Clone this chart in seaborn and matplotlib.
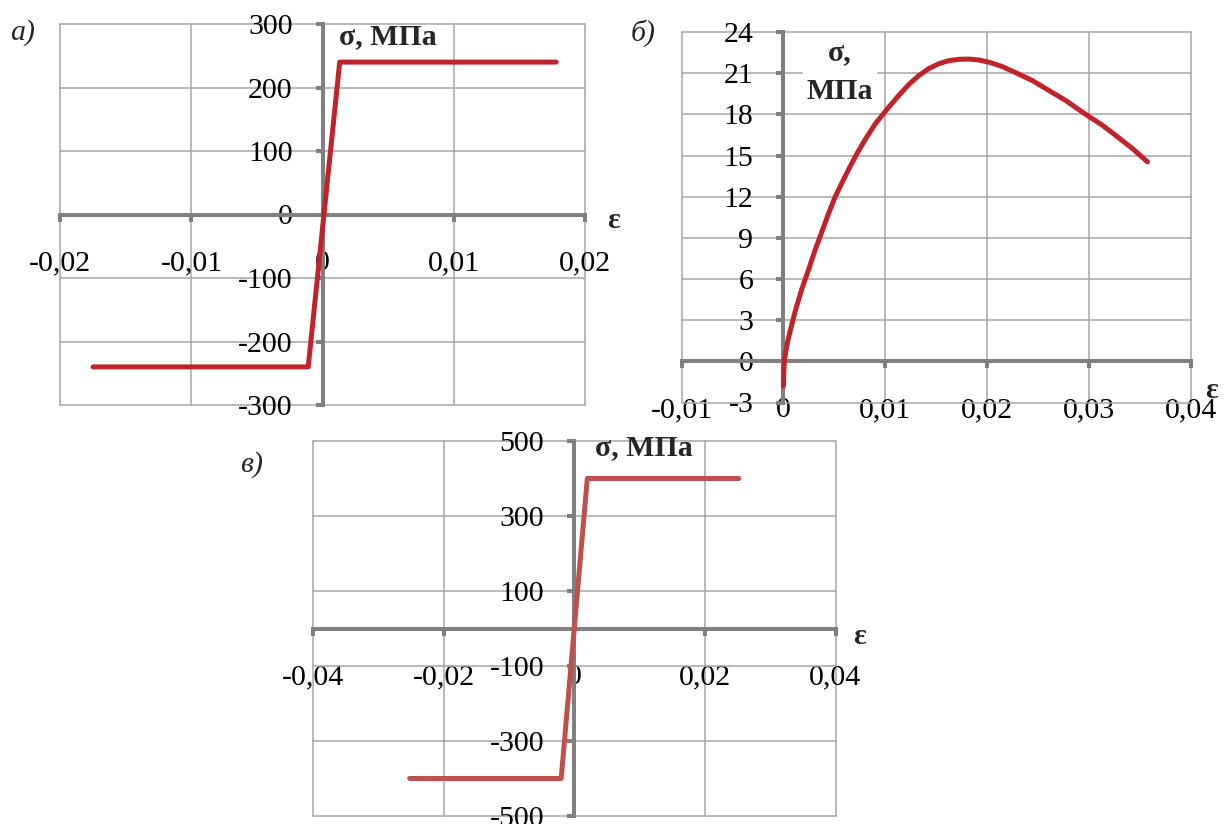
import matplotlib
matplotlib.use("Agg")
import matplotlib.pyplot as plt
import seaborn as sns
from matplotlib.ticker import FuncFormatter

# а) steel, elastic - perfectly plastic
eps_a = [-0.0175, -0.0011, 0.0013, 0.0178]
sig_a = [-240, -240, 240, 240]
xticks_a = [-0.02, -0.01, 0, 0.01, 0.02]
yticks_a = [-300, -200, -100, 0, 100, 200, 300]

# б) concrete in compression (read off the curve)
eps_b = [0.0, 0.00003, 0.0001, 0.00025, 0.00049, 0.00115, 0.0018, 0.00246,
         0.00311, 0.00377, 0.00443, 0.00508, 0.00574, 0.00639, 0.00721,
         0.00803, 0.00902, 0.01026, 0.01131, 0.0123, 0.01328, 0.01426,
         0.01525, 0.01623, 0.01721, 0.0182, 0.01918, 0.02023, 0.02148,
         0.02279, 0.02443, 0.02607, 0.0277, 0.02934, 0.03131, 0.03262,
         0.03426, 0.03574]
sig_b = [-1.8, -0.9, 0.0, 0.8, 1.69, 3.63, 5.25, 6.66,
         8.11, 9.44, 10.77, 11.99, 13.0, 13.97, 15.13,
         16.17, 17.31, 18.45, 19.37, 20.17, 20.82, 21.33,
         21.69, 21.91, 22.01, 22.03, 21.96, 21.79, 21.48,
         21.04, 20.46, 19.73, 19.01, 18.16, 17.2, 16.46,
         15.5, 14.53]
xticks_b = [-0.01, 0, 0.01, 0.02, 0.03, 0.04]
yticks_b = [-3, 0, 3, 6, 9, 12, 15, 18, 21, 24]

# в) reinforcement
eps_c = [-0.0252, -0.0020, 0.0020, 0.0252]
sig_c = [-400, -400, 400, 400]
xticks_c = [-0.04, -0.02, 0, 0.02, 0.04]
yticks_c = [-500, -300, -100, 100, 300, 500]

W, H = 1228, 824
AXIS_GRAY = "#808080"
GRID_GRAY = "#a6a6a6"
FS = 21.5

sns.set_style("white")
plt.rcParams["font.family"] = ["Liberation Serif", "DejaVu Serif"]


def rect(l, t, r, b):
    return [l / W, 1 - b / H, (r - l) / W, (b - t) / H]


def comma_fmt(v, pos):
    s = f"{v:g}"
    if s == "-0":
        s = "0"
    return s.replace(".", ",")


def draw_panel(ax, eps, sig, color, xticks, yticks):
    sns.lineplot(x=eps, y=sig, ax=ax, color=color, lw=3.6, sort=False,
                 estimator=None, solid_capstyle="round",
                 solid_joinstyle="round", zorder=4)
    ax.set_xlim(xticks[0], xticks[-1])
    ax.set_ylim(yticks[0], yticks[-1])
    ax.set_xticks(xticks)
    ax.set_yticks(yticks)
    ax.xaxis.set_major_formatter(FuncFormatter(comma_fmt))
    ax.yaxis.set_major_formatter(FuncFormatter(comma_fmt))
    ax.set_xlabel("")
    ax.set_ylabel("")

    for side in ["top", "right"]:
        ax.spines[side].set_visible(False)
    for side in ["left", "bottom"]:
        ax.spines[side].set_position(("data", 0))
        ax.spines[side].set_color(AXIS_GRAY)
        ax.spines[side].set_linewidth(2.9)
        ax.spines[side].set_zorder(3)

    ax.grid(True, color=GRID_GRAY, lw=1.1)
    for gl in ax.get_xgridlines() + ax.get_ygridlines():
        gl.set_clip_on(False)

    ax.tick_params(axis="both", direction="out", length=5, width=2.9,
                   color=AXIS_GRAY, labelsize=FS, labelcolor="black",
                   left=True, bottom=True)
    ax.tick_params(axis="x", pad=20.9)
    ax.tick_params(axis="y", pad=16.6)


fig = plt.figure(figsize=(W / 100, H / 100), dpi=100)

ax_a = fig.add_axes(rect(60.3, 24, 585, 405))
draw_panel(ax_a, eps_a, sig_a, "#c1232b", xticks_a, yticks_a)

ax_b = fig.add_axes(rect(681.5, 32, 1191, 402.5))
draw_panel(ax_b, eps_b, sig_b, "#c1232b", xticks_b, yticks_b)

ax_c = fig.add_axes(rect(313, 441, 835.5, 816))
draw_panel(ax_c, eps_c, sig_c, "#c0504d", xticks_c, yticks_c)


def ftext(x, y, s, **kw):
    kw.setdefault("fontsize", FS)
    return fig.text(x / W, 1 - y / H, s, **kw)


# panel letters
ftext(23, 33, "а)", style="italic", ha="center", va="center")
ftext(643, 33, "б)", style="italic", ha="center", va="center")
ftext(252, 465, "в)", style="italic", ha="center", va="center")

# axis names
ftext(339, 44, "σ, МПа", weight="bold", ha="left", va="baseline")
ftext(613, 221, "ε", weight="bold", ha="center", va="center")

# inside the axes so the curve stays on top of the white box
ax_b.text(840 / W, 1 - 72 / H, "σ,\nМПа", transform=fig.transFigure,
          fontsize=FS, weight="bold", ha="center", va="center",
          multialignment="center", linespacing=1.55,
          bbox=dict(facecolor="white", edgecolor="none", pad=3), zorder=3.5)
ftext(1212, 390, "ε", weight="bold", ha="center", va="center")

ftext(595, 455, "σ, МПа", weight="bold", ha="left", va="baseline")
ftext(860, 637, "ε", weight="bold", ha="center", va="center")

fig.savefig("out.png", dpi=100)
